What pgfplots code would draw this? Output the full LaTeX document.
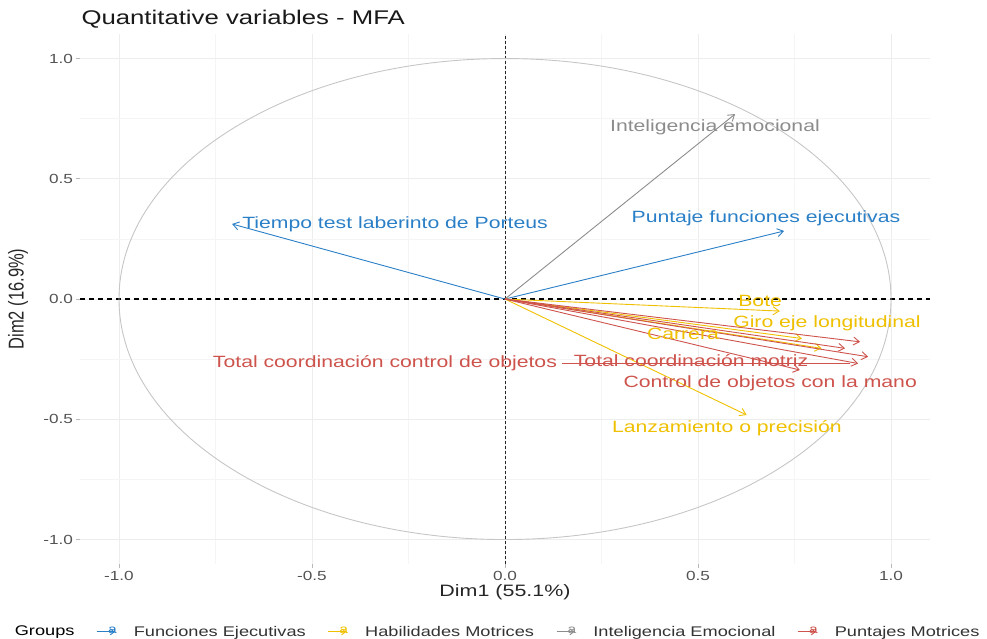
\documentclass[border=0pt]{standalone}
\usepackage{fontspec}
\setmainfont{Liberation Sans}[FakeStretch=1.3]
\newfontfamily\plainsf{Liberation Sans}
\usepackage{graphicx}
\usepackage{pgfplots}
\pgfplotsset{compat=1.18}
\usetikzlibrary{arrows.meta}

% group colours
\definecolor{fe}{HTML}{2A7FC6}
\definecolor{hm}{HTML}{EFC000}
\definecolor{ie}{HTML}{8C8C8C}
\definecolor{pm}{HTML}{CD534C}

\newcommand\titlefont{\fontsize{19.8}{22}\selectfont}
\newcommand\lblfont{\fontsize{16.3}{18}\selectfont}
\newcommand\axtitlefont{\fontsize{16.5}{18}\selectfont}
\newcommand\tickfont{\fontsize{13.2}{14}\selectfont}
\newcommand\legfont{\fontsize{14}{16}\selectfont}

\tikzset{
  vec/.style={line width=0.9pt, -{Straight Barb[length=6pt,width=8pt]}},
  lbl/.style={font=\lblfont, inner sep=0pt, anchor=center},
}
\pgfplotsset{
  keyimg/.style={legend image code/.code={
    \draw[line width=0.9pt, -{Straight Barb[length=4pt,width=6pt]}] (0pt,0pt) -- (18pt,0pt);
    \node[inner sep=0pt, font=\fontsize{12}{12}\selectfont] at (11pt,0.5pt) {a};}},
}

\begin{document}
\begin{tikzpicture}
\useasboundingbox (0,0) rectangle (987pt,639pt);
\begin{axis}[
  at={(80.4pt,75.4pt)}, anchor=south west,
  width=849.2pt, height=529.1pt, scale only axis,
  xmin=-1.1, xmax=1.1, ymin=-1.1, ymax=1.1,
  axis line style={draw=none},
  tick pos=left, tick align=outside,
  major tick length=4pt, minor tick length=0pt,
  tick style={gray!55, line width=0.8pt},
  xtick={-1,-0.5,0,0.5,1}, ytick={-1,-0.5,0,0.5,1},
  minor xtick={-0.75,-0.25,0.25,0.75}, minor ytick={-0.75,-0.25,0.25,0.75},
  grid=both,
  major grid style={gray!14, line width=0.9pt},
  minor grid style={gray!8, line width=0.6pt},
  ticklabel style={font=\tickfont, text=gray!65!black},
  /pgf/number format/fixed, /pgf/number format/fixed zerofill,
  /pgf/number format/precision=1, /pgf/number format/assume math mode=true,
  clip=false,
  legend columns=-1,
  legend cell align=left,
  legend style={draw=none, fill=none, at={(-0.101,-0.129)}, anchor=west,
    font=\legfont, text=black!80, nodes={inner xsep=0pt, inner ysep=1pt},
    /tikz/every odd column/.append style={column sep=17pt},
    /tikz/every even column/.append style={column sep=22pt}},
]
% dashed reference lines through the origin
\addplot[forget plot, black, line width=1.1pt, dash pattern=on 5pt off 4pt] coordinates {(-1.1,0) (1.1,0)};
\addplot[forget plot, black!85, line width=0.9pt, dash pattern=on 2.5pt off 2.5pt] coordinates {(0,-1.1) (0,1.1)};
% correlation circle
\draw[gray!45, line width=0.9pt] (axis cs:0,0) ellipse [x radius=1, y radius=1];

% Funciones Ejecutivas
\addplot[forget plot, fe, vec] coordinates {(0,0) (-0.707,0.312)};
\addplot[forget plot, fe, vec] coordinates {(0,0) (0.723,0.283)};
% Inteligencia Emocional
\addplot[forget plot, ie, vec] coordinates {(0,0) (0.596,0.769)};
% Habilidades Motrices
\addplot[forget plot, hm, vec] coordinates {(0,0) (0.712,-0.050)};
\addplot[forget plot, hm, vec] coordinates {(0,0) (0.769,-0.164)};
\addplot[forget plot, hm, vec] coordinates {(0,0) (0.820,-0.205)};
\addplot[forget plot, hm, vec] coordinates {(0,0) (0.626,-0.482)};
% Puntajes Motrices
\addplot[forget plot, pm, vec] coordinates {(0,0) (0.920,-0.178)};
\addplot[forget plot, pm, vec] coordinates {(0,0) (0.881,-0.205)};
\addplot[forget plot, pm, vec] coordinates {(0,0) (0.941,-0.240)};
\addplot[forget plot, pm, vec] coordinates {(0,0) (0.915,-0.268)};
\addplot[forget plot, pm, vec] coordinates {(0,0) (0.764,-0.295)};
% leader from a displaced label to its arrow
\addplot[forget plot, pm, line width=0.8pt] coordinates {(0.148,-0.268) (0.894,-0.268)};

% variable labels
\node[lbl, text=fe] at (axis cs:-0.285,0.312) {Tiempo test laberinto de Porteus};
\node[lbl, text=fe] at (axis cs:0.676,0.337) {Puntaje funciones ejecutivas};
\node[lbl, text=ie] at (axis cs:0.544,0.715) {Inteligencia emocional};
\node[lbl, text=hm] at (axis cs:0.661,-0.008) {Bote};
\node[lbl, text=hm] at (axis cs:0.834,-0.100) {Giro eje longitudinal};
\node[lbl, text=hm] at (axis cs:0.461,-0.146) {Carrera};
\node[lbl, text=pm] at (axis cs:0.482,-0.254) {Total coordinación motriz};
\node[lbl, text=pm] at (axis cs:0.687,-0.349) {Control de objetos con la mano};
\node[lbl, text=hm] at (axis cs:0.575,-0.536) {Lanzamiento o precisión};
\node[lbl, text=pm] at (axis cs:-0.311,-0.268) {Total coordinación control de objetos};

% legend
\addlegendimage{empty legend}\addlegendentry{\textcolor{black}{Groups}}
\addlegendimage{fe, keyimg}\addlegendentry{Funciones Ejecutivas}
\addlegendimage{hm, keyimg}\addlegendentry{Habilidades Motrices}
\addlegendimage{ie, keyimg}\addlegendentry{Inteligencia Emocional}
\addlegendimage{pm, keyimg}\addlegendentry{Puntajes Motrices}
\end{axis}

\node[anchor=base west, font=\titlefont, text=black!90] at (78pt,614pt) {Quantitative variables - MFA};
\node[font=\axtitlefont, text=black!85] at (505pt,47pt) {Dim1 (55.1\%)};
\node[rotate=90, font=\plainsf\fontsize{16.5}{18}\selectfont, text=black!85] at (18pt,340pt) {\scalebox{1}[1.3]{Dim2 (16.9\%)}};
\end{tikzpicture}
\end{document}
